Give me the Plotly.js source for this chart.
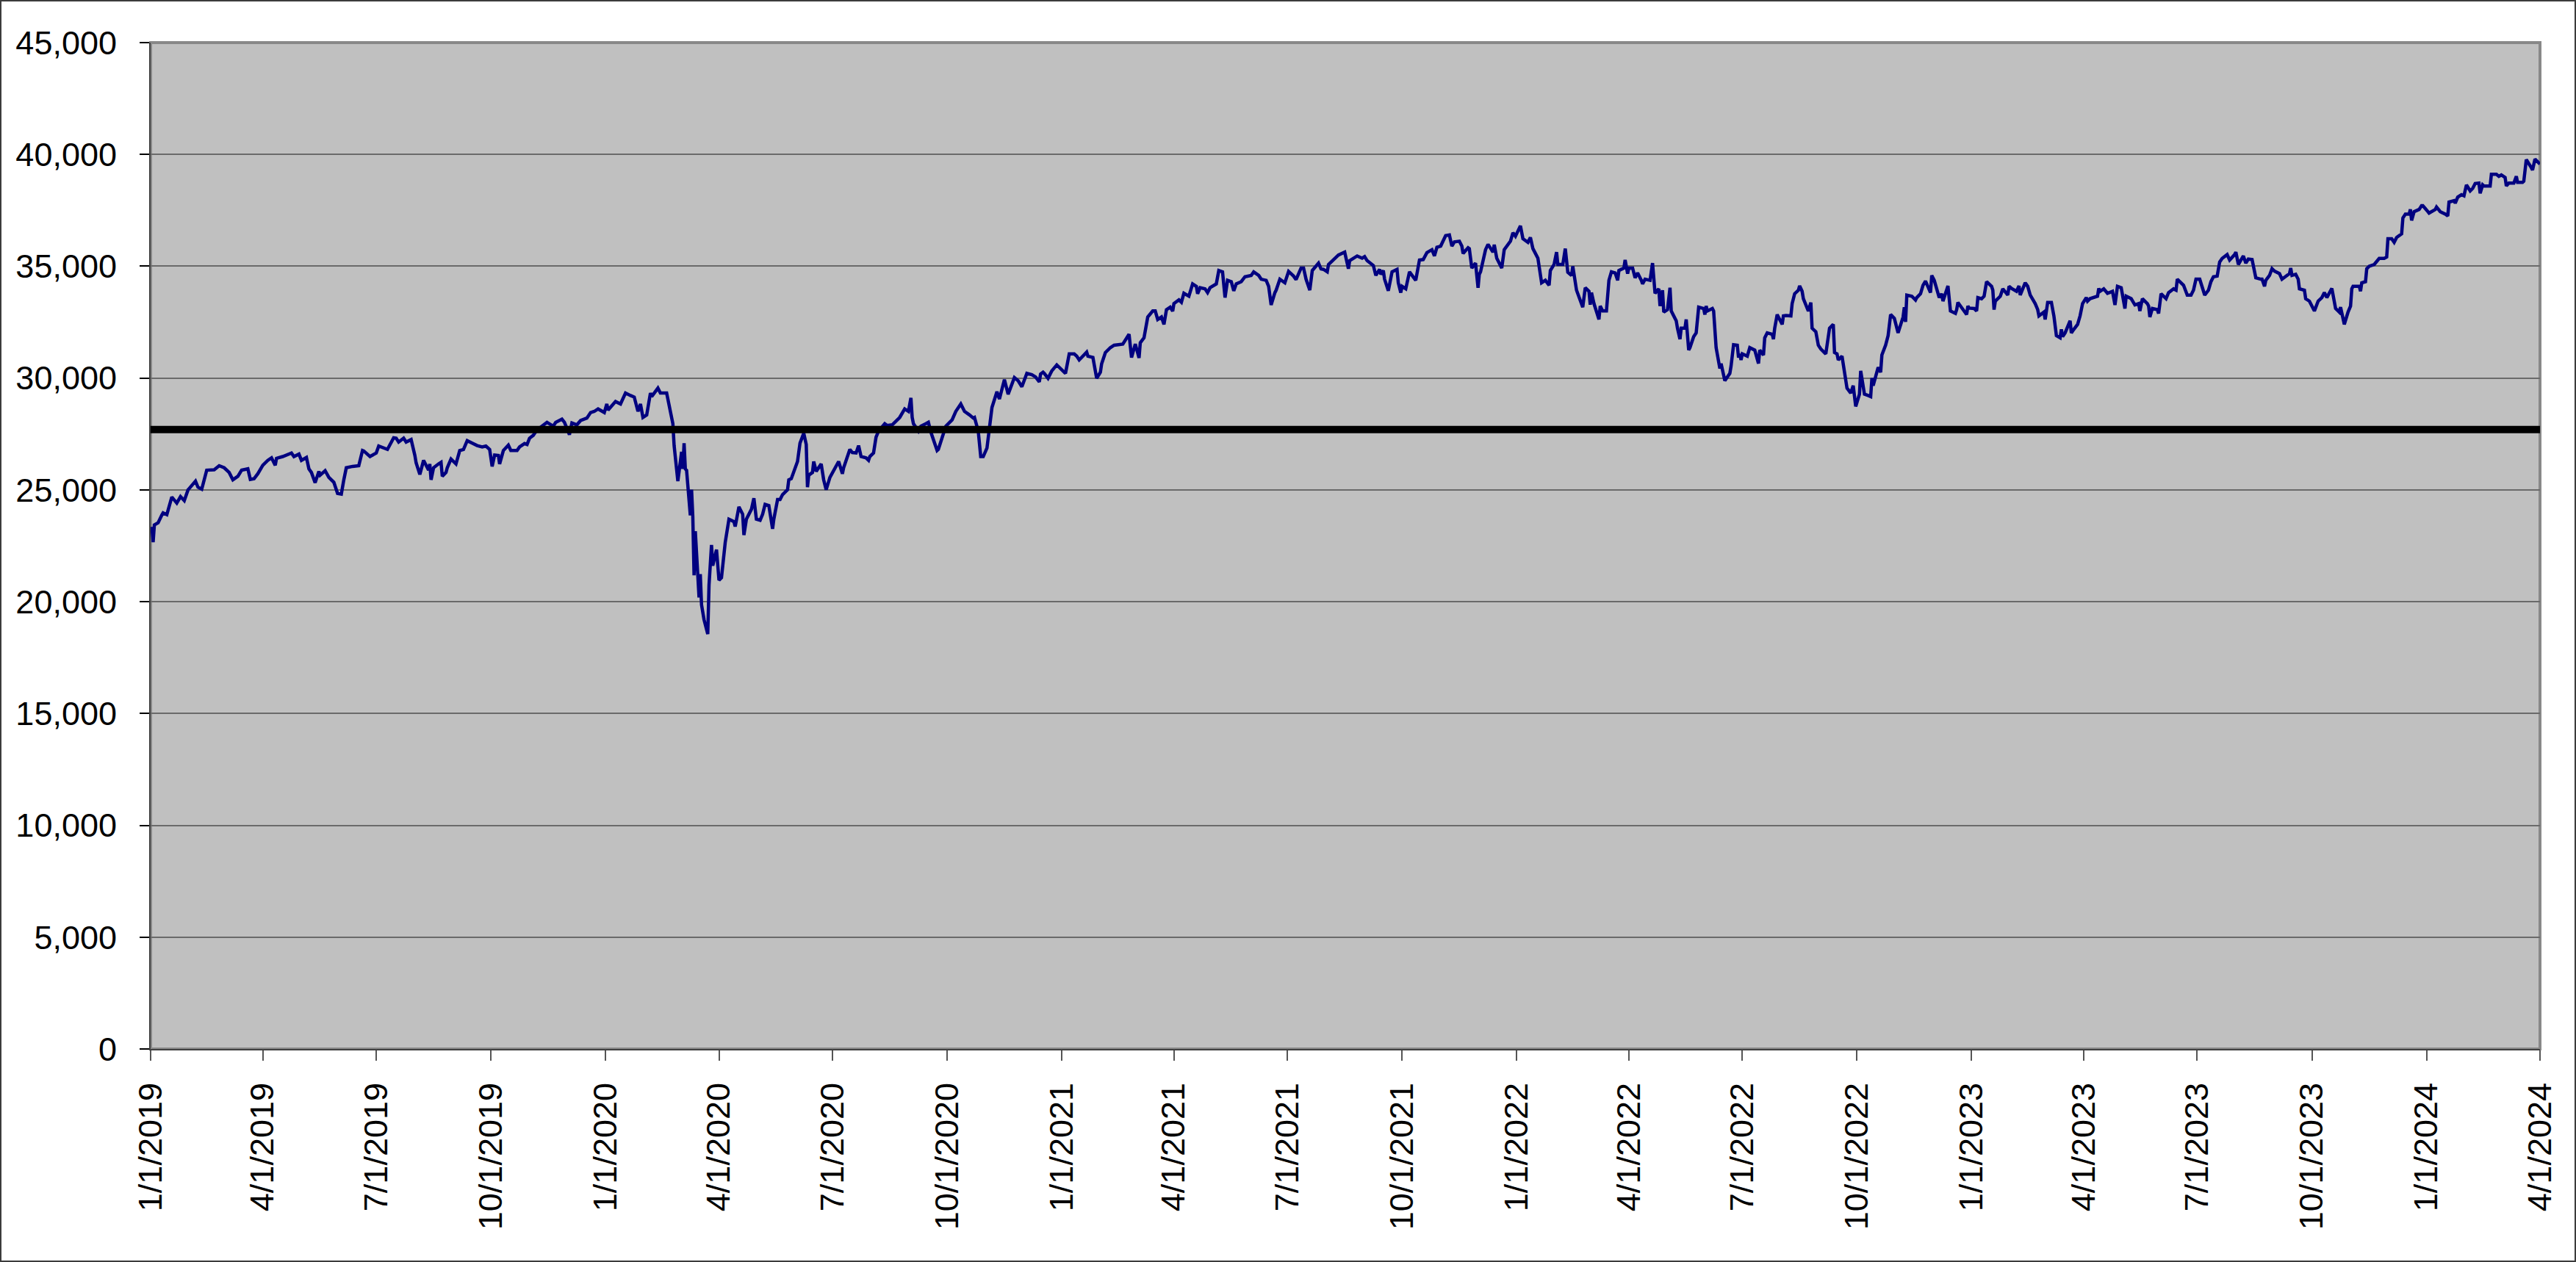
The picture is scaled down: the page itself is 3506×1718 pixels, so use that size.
<!DOCTYPE html>
<html>
<head>
<meta charset="utf-8">
<script src="https://cdn.plot.ly/plotly-3.0.1.min.js"></script>
<style>
  html, body { margin: 0; padding: 0; background: #ffffff; overflow: hidden; }
  #wrap { position: relative; width: 3506px; height: 1718px; }
  #chart { position: absolute; left: 0; top: 0; width: 3506px; height: 1718px; }
  #frame { position: absolute; left: 0; top: 0; width: 3506px; height: 1718px; box-sizing: border-box;
           border: 2px solid #3c3c3c; pointer-events: none; }
</style>
</head>
<body>
<div id="wrap"><div id="chart"></div><div id="frame"></div></div>
<script>
// ---- data ----
const dates = [
"2019-01-02","2019-01-03","2019-01-04","2019-01-07","2019-01-10","2019-01-11","2019-01-14","2019-01-18","2019-01-22","2019-01-25",
"2019-01-28","2019-01-31","2019-02-06","2019-02-08","2019-02-11","2019-02-13","2019-02-15","2019-02-21","2019-02-25","2019-03-01",
"2019-03-05","2019-03-08","2019-03-12","2019-03-15","2019-03-20","2019-03-22","2019-03-25","2019-03-28","2019-04-01","2019-04-05",
"2019-04-08","2019-04-11","2019-04-12","2019-04-17","2019-04-22","2019-04-24","2019-04-26","2019-04-30","2019-05-02","2019-05-06",
"2019-05-08","2019-05-10","2019-05-13","2019-05-16","2019-05-17","2019-05-21","2019-05-24","2019-05-28","2019-05-31","2019-06-03",
"2019-06-05","2019-06-07","2019-06-12","2019-06-17","2019-06-20","2019-06-21","2019-06-26","2019-07-01","2019-07-03","2019-07-08",
"2019-07-10","2019-07-15","2019-07-17","2019-07-19","2019-07-23","2019-07-25","2019-07-29","2019-08-01","2019-08-02","2019-08-05",
"2019-08-08","2019-08-12","2019-08-13","2019-08-14","2019-08-16","2019-08-20","2019-08-22","2019-08-23","2019-08-26","2019-08-27",
"2019-08-30","2019-09-03","2019-09-06","2019-09-09","2019-09-12","2019-09-16","2019-09-20","2019-09-24","2019-09-27","2019-09-30",
"2019-10-02","2019-10-04","2019-10-07","2019-10-08","2019-10-11","2019-10-15","2019-10-17","2019-10-22","2019-10-24","2019-10-28",
"2019-10-30","2019-11-01","2019-11-04","2019-11-07","2019-11-14","2019-11-15","2019-11-20","2019-11-22","2019-11-27","2019-11-29",
"2019-12-03","2019-12-05","2019-12-09","2019-12-12","2019-12-17","2019-12-20","2019-12-23","2019-12-26","2019-12-31",
"2020-01-02","2020-01-03","2020-01-09","2020-01-13","2020-01-17","2020-01-21","2020-01-24","2020-01-27","2020-01-29","2020-01-31",
"2020-02-03","2020-02-06","2020-02-07","2020-02-12","2020-02-14","2020-02-19","2020-02-21","2020-02-24","2020-02-25","2020-02-27",
"2020-02-28","2020-03-02","2020-03-03","2020-03-04","2020-03-05","2020-03-06","2020-03-09","2020-03-10","2020-03-11","2020-03-12",
"2020-03-13","2020-03-16","2020-03-17","2020-03-18","2020-03-20","2020-03-23","2020-03-24","2020-03-26","2020-03-27","2020-03-30",
"2020-04-01","2020-04-03","2020-04-06","2020-04-09","2020-04-13","2020-04-14","2020-04-16","2020-04-17","2020-04-20","2020-04-21",
"2020-04-23","2020-04-27","2020-04-29","2020-05-01","2020-05-04","2020-05-06","2020-05-08","2020-05-11","2020-05-14","2020-05-15",
"2020-05-18","2020-05-20","2020-05-22","2020-05-26","2020-05-27","2020-05-29","2020-06-03","2020-06-05","2020-06-08","2020-06-10",
"2020-06-11","2020-06-12","2020-06-15","2020-06-16","2020-06-18","2020-06-22","2020-06-24","2020-06-26","2020-06-29","2020-07-01",
"2020-07-02","2020-07-06","2020-07-09","2020-07-10","2020-07-15","2020-07-17","2020-07-20","2020-07-22","2020-07-24","2020-07-28",
"2020-07-30","2020-07-31","2020-08-03","2020-08-05","2020-08-07","2020-08-12","2020-08-14","2020-08-18","2020-08-24","2020-08-25",
"2020-08-28","2020-08-31","2020-09-02","2020-09-03","2020-09-04","2020-09-08","2020-09-10","2020-09-14","2020-09-16","2020-09-18",
"2020-09-21","2020-09-23","2020-09-24","2020-09-28","2020-09-30","2020-10-05","2020-10-08","2020-10-12","2020-10-15","2020-10-19",
"2020-10-22","2020-10-23","2020-10-26","2020-10-28","2020-10-30","2020-11-02","2020-11-05","2020-11-06","2020-11-10","2020-11-12",
"2020-11-16","2020-11-19","2020-11-24","2020-11-27","2020-11-30","2020-12-04","2020-12-08","2020-12-11","2020-12-14","2020-12-15",
"2020-12-17","2020-12-18","2020-12-21","2020-12-24","2020-12-28","2020-12-30",
"2021-01-04","2021-01-07","2021-01-11","2021-01-13","2021-01-15","2021-01-21","2021-01-22","2021-01-26","2021-01-27","2021-01-29",
"2021-02-01","2021-02-02","2021-02-05","2021-02-09","2021-02-12","2021-02-17","2021-02-19","2021-02-24","2021-02-26","2021-03-01",
"2021-03-04","2021-03-05","2021-03-08","2021-03-11","2021-03-15","2021-03-17","2021-03-19","2021-03-22","2021-03-24","2021-03-26",
"2021-03-29","2021-03-31","2021-04-01","2021-04-05","2021-04-07","2021-04-09","2021-04-13","2021-04-16","2021-04-19","2021-04-20",
"2021-04-22","2021-04-26","2021-04-28","2021-04-30","2021-05-05","2021-05-07","2021-05-10","2021-05-12","2021-05-14","2021-05-17",
"2021-05-19","2021-05-21","2021-05-25","2021-05-28","2021-06-02","2021-06-04","2021-06-08","2021-06-10","2021-06-14","2021-06-16",
"2021-06-18","2021-06-21","2021-06-22","2021-06-25","2021-06-29","2021-07-02","2021-07-06","2021-07-08","2021-07-12","2021-07-14",
"2021-07-16","2021-07-19","2021-07-21","2021-07-26","2021-07-28","2021-07-30","2021-08-02","2021-08-03","2021-08-05","2021-08-11",
"2021-08-16","2021-08-19","2021-08-20","2021-08-24","2021-08-26","2021-08-30","2021-09-01","2021-09-03","2021-09-08","2021-09-10",
"2021-09-13","2021-09-14","2021-09-16","2021-09-17","2021-09-20","2021-09-23","2021-09-27","2021-09-28","2021-09-30","2021-10-01",
"2021-10-04","2021-10-07","2021-10-12","2021-10-15","2021-10-18","2021-10-21","2021-10-25","2021-10-27","2021-10-29","2021-11-01",
"2021-11-03","2021-11-05","2021-11-08","2021-11-10","2021-11-12","2021-11-16","2021-11-18","2021-11-19","2021-11-23","2021-11-24",
"2021-11-26","2021-11-29","2021-12-01","2021-12-02","2021-12-03","2021-12-07","2021-12-09","2021-12-13","2021-12-14","2021-12-16",
"2021-12-20","2021-12-22","2021-12-27","2021-12-29","2021-12-31",
"2022-01-04","2022-01-06","2022-01-10","2022-01-12","2022-01-14","2022-01-18","2022-01-21","2022-01-24","2022-01-27","2022-01-28",
"2022-01-31","2022-02-02","2022-02-03","2022-02-07","2022-02-09","2022-02-11","2022-02-14","2022-02-15","2022-02-17","2022-02-18",
"2022-02-23","2022-02-24","2022-02-25","2022-02-28","2022-03-01","2022-03-02","2022-03-04","2022-03-08","2022-03-09","2022-03-11",
"2022-03-14","2022-03-16","2022-03-18","2022-03-21","2022-03-23","2022-03-24","2022-03-28","2022-03-29","2022-03-31","2022-04-01",
"2022-04-04","2022-04-06","2022-04-08","2022-04-11","2022-04-12","2022-04-14","2022-04-18","2022-04-20","2022-04-22","2022-04-25",
"2022-04-26","2022-04-28","2022-04-29","2022-05-02","2022-05-04","2022-05-05","2022-05-09","2022-05-10","2022-05-12","2022-05-13",
"2022-05-16","2022-05-17","2022-05-19","2022-05-20","2022-05-23","2022-05-25","2022-05-27","2022-05-31","2022-06-01","2022-06-02",
"2022-06-03","2022-06-07","2022-06-08","2022-06-10","2022-06-13","2022-06-14","2022-06-15","2022-06-17","2022-06-21","2022-06-22",
"2022-06-24","2022-06-27","2022-06-28","2022-06-29","2022-06-30","2022-07-01","2022-07-05","2022-07-07","2022-07-11","2022-07-14",
"2022-07-15","2022-07-18","2022-07-19","2022-07-21","2022-07-25","2022-07-26","2022-07-27","2022-07-29","2022-08-02","2022-08-03",
"2022-08-05","2022-08-09","2022-08-10","2022-08-12","2022-08-15","2022-08-16","2022-08-18","2022-08-19","2022-08-23","2022-08-25",
"2022-08-26","2022-08-29","2022-08-31","2022-09-02","2022-09-06","2022-09-08","2022-09-09","2022-09-12","2022-09-13","2022-09-15",
"2022-09-16","2022-09-19","2022-09-21","2022-09-23","2022-09-26","2022-09-28","2022-09-30","2022-10-03","2022-10-04","2022-10-07",
"2022-10-10","2022-10-12","2022-10-13","2022-10-14","2022-10-18","2022-10-20","2022-10-21","2022-10-24","2022-10-26","2022-10-28",
"2022-10-31","2022-11-03","2022-11-07","2022-11-08","2022-11-09","2022-11-10","2022-11-14","2022-11-17","2022-11-18","2022-11-21",
"2022-11-23","2022-11-25","2022-11-29","2022-11-30","2022-12-02","2022-12-05","2022-12-06","2022-12-08","2022-12-09","2022-12-13",
"2022-12-15","2022-12-19","2022-12-20","2022-12-21","2022-12-23","2022-12-28","2022-12-29","2022-12-30",
"2023-01-03","2023-01-05","2023-01-06","2023-01-09","2023-01-11","2023-01-13","2023-01-17","2023-01-18","2023-01-19","2023-01-20",
"2023-01-24","2023-01-26","2023-01-30","2023-01-31","2023-02-02","2023-02-06","2023-02-08","2023-02-09","2023-02-13","2023-02-15",
"2023-02-17","2023-02-21","2023-02-23","2023-02-24","2023-02-28","2023-03-01","2023-03-03","2023-03-06","2023-03-08","2023-03-10",
"2023-03-13","2023-03-14","2023-03-15","2023-03-17","2023-03-21","2023-03-22","2023-03-24","2023-03-27","2023-03-29","2023-03-31",
"2023-04-03","2023-04-04","2023-04-06","2023-04-12","2023-04-13","2023-04-14","2023-04-17","2023-04-20","2023-04-24","2023-04-26",
"2023-04-28","2023-05-01","2023-05-04","2023-05-05","2023-05-09","2023-05-12","2023-05-15","2023-05-16","2023-05-18","2023-05-22",
"2023-05-23","2023-05-24","2023-05-26","2023-05-30","2023-05-31","2023-06-02","2023-06-06","2023-06-08","2023-06-12","2023-06-14",
"2023-06-15","2023-06-20","2023-06-23","2023-06-26","2023-06-28","2023-06-30","2023-07-03","2023-07-05","2023-07-07","2023-07-10",
"2023-07-12","2023-07-14","2023-07-17","2023-07-19","2023-07-21","2023-07-25","2023-07-27","2023-07-31","2023-08-01","2023-08-03",
"2023-08-07","2023-08-09","2023-08-11","2023-08-14","2023-08-17","2023-08-21","2023-08-22","2023-08-24","2023-08-25","2023-08-28",
"2023-08-30","2023-09-01","2023-09-05","2023-09-07","2023-09-11","2023-09-13","2023-09-14","2023-09-15","2023-09-18","2023-09-20",
"2023-09-21","2023-09-25","2023-09-26","2023-09-28","2023-09-29","2023-10-03","2023-10-06","2023-10-09","2023-10-11","2023-10-13",
"2023-10-17","2023-10-20","2023-10-23","2023-10-24","2023-10-27","2023-10-30","2023-11-01","2023-11-02","2023-11-03","2023-11-08",
"2023-11-09","2023-11-10","2023-11-13","2023-11-14","2023-11-16","2023-11-20","2023-11-22","2023-11-24","2023-11-28","2023-11-30",
"2023-12-01","2023-12-04","2023-12-06","2023-12-08","2023-12-12","2023-12-13","2023-12-15","2023-12-18","2023-12-19","2023-12-20",
"2023-12-22","2023-12-26","2023-12-28","2023-12-29",
"2024-01-03","2024-01-05","2024-01-08","2024-01-09","2024-01-11","2024-01-12","2024-01-16","2024-01-18","2024-01-19","2024-01-23",
"2024-01-24","2024-01-26","2024-01-29","2024-01-31","2024-02-02","2024-02-05","2024-02-07","2024-02-09","2024-02-12","2024-02-13",
"2024-02-15","2024-02-16","2024-02-21","2024-02-22","2024-02-26","2024-02-28","2024-03-01","2024-03-04","2024-03-05","2024-03-07",
"2024-03-11","2024-03-13","2024-03-14","2024-03-18","2024-03-19","2024-03-21","2024-03-25","2024-03-26","2024-03-28","2024-04-01"
];

const closes = [
23350,22660,23430,23530,23880,23970,23890,24680,24410,24700,
24520,25000,25390,25120,25030,25530,25880,25900,26080,25990,
25780,25450,25610,25880,25940,25470,25500,25720,26100,26320,
26430,26100,26410,26490,26600,26650,26490,26600,26320,26450,
25940,25780,25320,25830,25660,25860,25560,25340,24840,24810,
25450,25990,26050,26080,26760,26740,26490,26650,26960,26840,
26810,27330,27310,27140,27310,27140,27250,26540,26210,25690,
26320,25880,26160,25450,25990,26160,26230,25610,25780,25990,
26380,26160,26760,26810,27200,27090,26980,26920,26960,26810,
26050,26560,26540,26160,26760,27000,26760,26760,26920,27070,
27030,27310,27440,27680,27960,28020,27850,28020,28160,28020,
27470,27990,27910,28100,28210,28460,28510,28620,28460,
28840,28570,28950,28840,29330,29220,29150,28510,28840,28240,
28350,29330,29170,29550,29330,29330,28730,27960,26980,25780,
25390,26700,25940,27090,25940,25880,23860,25010,23800,21180,
23150,20190,21230,19860,19200,18550,20740,22540,21610,22330,
20960,21070,22650,23690,23580,23360,23910,24240,23910,22980,
23690,24130,24630,23690,23640,23910,24350,24300,23260,23690,
24570,24570,24790,25010,25450,25500,26270,27090,27530,27030,
25120,25660,25780,26270,25830,26160,25450,25010,25560,25780,
25830,26270,25720,25990,26810,26670,26650,26980,26490,26430,
26320,26490,26650,27360,27630,27960,27880,27910,28240,28350,
28620,28510,29110,28240,27960,27630,27850,27960,28020,27580,
27140,26760,26810,27470,27850,28130,28510,28840,28510,28350,
28210,28240,27630,26490,26490,26870,28350,28680,29390,29060,
29930,29280,30020,29880,29610,30210,30150,30050,29830,30180,
30260,30210,29990,30320,30590,30480,
30210,31080,31080,30980,30810,31160,30980,30920,30590,29990,
30260,30640,31140,31360,31470,31520,31520,31960,30920,31520,
30900,31580,31800,32730,33000,33000,32620,32730,32400,33060,
33170,32990,33330,33500,33390,33790,33660,34210,34100,33770,
34040,33990,33820,34040,34210,34810,34750,33600,34370,34310,
33900,34210,34310,34530,34590,34750,34590,34420,34370,34100,
33270,33820,33930,34420,34260,34770,34560,34400,34920,34920,
34420,33930,34810,35140,34880,34860,34750,35080,35190,35500,
35630,34890,35250,35410,35460,35360,35430,35250,35030,34590,
34860,34640,34810,34420,33900,34750,34860,34260,33820,34100,
33990,34750,34370,35280,35300,35610,35740,35460,35850,35900,
36120,36370,36400,35900,36090,36120,35900,35570,35830,35790,
34920,35140,34040,34640,34750,35740,35980,35630,35960,35360,
34920,35740,36120,36500,36340,
36810,36230,36070,36290,35790,35360,34260,34370,34150,34810,
35080,35630,35080,35080,35790,34730,34590,35000,34310,33930,
33170,33600,34040,33880,33280,33820,33330,32620,33220,33000,
33000,34370,34750,34700,34370,34810,34920,35280,34670,34920,
34920,34480,34700,34370,34210,34420,34370,35140,33790,33990,
33220,33930,32950,33060,34040,33000,32560,32230,31740,32230,
32230,32620,31250,31360,31850,32020,33170,33110,32840,33220,
33000,33110,33000,31360,30430,30650,30370,29880,30210,30540,
31490,31470,30920,31080,30810,31080,30980,31360,31250,30650,
31250,31030,31800,32020,31960,31740,32230,32840,32400,32780,
32800,32780,33330,33770,33930,34120,33880,33550,33000,33380,
32230,32070,31470,31300,31080,31900,32230,32400,31140,31080,
30810,30980,30150,29550,29330,29660,28730,29280,30320,29280,
29220,29170,30000,29660,30480,30260,31030,31470,31900,32840,
32670,32020,32730,33170,32510,33710,33660,33490,33600,33770,
34150,34340,33820,34590,34370,33820,33600,33770,33440,34120,
33000,32890,33060,33380,33220,32840,33220,33130,
33110,33000,33600,33550,33660,34310,34100,33930,33060,33440,
33660,33990,33710,34100,34010,33880,34120,33710,34260,34100,
33710,33330,33060,32780,32950,32620,33380,33380,32780,31900,
31800,32180,31850,32020,32560,32020,32180,32400,32780,33330,
33600,33440,33550,33660,34010,33880,33990,33790,33880,33270,
34100,34040,33110,33660,33550,33270,33330,33000,33550,33330,
33220,32730,33110,33060,32890,33770,33550,33820,33990,33930,
34420,34150,33710,33710,33930,34420,34420,34100,33710,33930,
34310,34530,34560,35190,35350,35520,35280,35520,35630,35080,
35460,35140,35320,35300,34480,34420,34420,34100,34370,34590,
34890,34780,34670,34420,34590,34670,34920,34590,34640,34420,
33990,33930,33550,33490,33440,33000,33440,33600,33820,33600,
34010,33110,32950,33170,32400,32950,33220,33990,34100,34100,
33880,34260,34310,34890,35000,35080,35190,35350,35350,35410,
36230,36230,36070,36290,36450,37160,37330,37330,37540,37050,
37440,37540,37710,37710,
37380,37440,37540,37650,37540,37440,37330,37250,37870,37930,
37820,38090,38200,38150,38640,38370,38480,38700,38720,38260,
38640,38590,38590,39110,39110,39020,39080,38970,38590,38720,
38720,39020,38750,38750,38800,39770,39410,39300,39790,39570
];

const refDates  = ["2019-01-01", "2024-04-01"];
const refLevels = [27700, 27700];

const xTickVals = ["2019-01-01","2019-04-01","2019-07-01","2019-10-01","2020-01-01","2020-04-01","2020-07-01","2020-10-01",
                   "2021-01-01","2021-04-01","2021-07-01","2021-10-01","2022-01-01","2022-04-01","2022-07-01","2022-10-01",
                   "2023-01-01","2023-04-01","2023-07-01","2023-10-01","2024-01-01","2024-04-01"];
const xTickText = ["1/1/2019","4/1/2019","7/1/2019","10/1/2019","1/1/2020","4/1/2020","7/1/2020","10/1/2020",
                   "1/1/2021","4/1/2021","7/1/2021","10/1/2021","1/1/2022","4/1/2022","7/1/2022","10/1/2022",
                   "1/1/2023","4/1/2023","7/1/2023","10/1/2023","1/1/2024","4/1/2024"];
const yTickVals = [0,5000,10000,15000,20000,25000,30000,35000,40000,45000];
const yTickText = ["0","5,000","10,000","15,000","20,000","25,000","30,000","35,000","40,000","45,000"];

// ---- chart ----
const traces = [
  { type: "scatter", mode: "lines", x: dates, y: closes,
    line: { color: "#000080", width: 4.5 }, hoverinfo: "skip" },
  { type: "scatter", mode: "lines", x: refDates, y: refLevels,
    line: { color: "#000000", width: 10 }, hoverinfo: "skip" }
];

const layout = {
  width: 3506, height: 1718,
  margin: { l: 205, r: 49, t: 58, b: 290, pad: 0 },
  paper_bgcolor: "#ffffff",
  plot_bgcolor: "#c0c0c0",
  showlegend: false,
  font: { family: '"Liberation Sans", Arial, sans-serif', size: 45, color: "#000000" },
  xaxis: {
    type: "date",
    range: [xTickVals[0], xTickVals[xTickVals.length - 1]],
    tickmode: "array", tickvals: xTickVals, ticktext: xTickText,
    tickangle: -90,
    ticks: "outside", ticklen: 14, tickwidth: 2, tickcolor: "#555555",
    ticklabelstandoff: 12,
    showgrid: false, zeroline: false,
    showline: true, linecolor: "#404040", linewidth: 2,
    tickfont: { family: '"Liberation Sans", Arial, sans-serif', size: 45, color: "#000000" }
  },
  yaxis: {
    range: [0, 45000],
    tickmode: "array", tickvals: yTickVals, ticktext: yTickText,
    ticks: "outside", ticklen: 13, tickwidth: 2, tickcolor: "#000000",
    ticklabelstandoff: 22,
    showgrid: true, gridcolor: "#6a6a6a", gridwidth: 2,
    zeroline: false,
    showline: true, linecolor: "#404040", linewidth: 2,
    tickfont: { family: '"Liberation Sans", Arial, sans-serif', size: 45, color: "#000000" }
  },
  shapes: [
    { type: "rect", xref: "paper", yref: "paper", x0: 0, x1: 1, y0: 0, y1: 1,
      line: { color: "#888888", width: 4 }, fillcolor: "rgba(0,0,0,0)", layer: "below" }
  ]
};

Plotly.newPlot("chart", traces, layout, { staticPlot: true, displayModeBar: false });
</script>
</body>
</html>
